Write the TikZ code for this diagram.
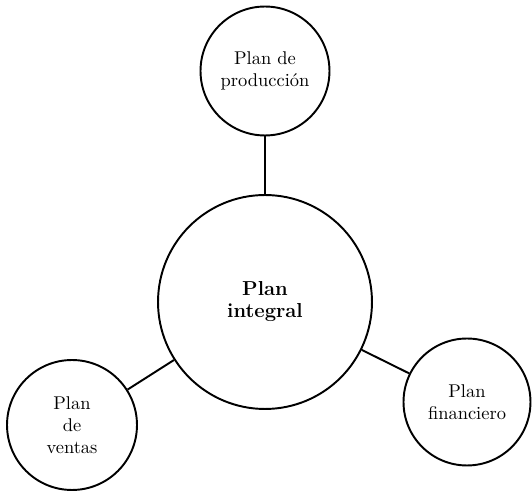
\documentclass[tikz,border=0pt]{standalone}
\usepackage{tikz}
\usetikzlibrary{positioning}

\begin{document}
\begin{tikzpicture}[x=0.02cm,y=-0.02cm,line width=1.1pt,
  plan/.style={draw,circle,align=center,inner sep=0pt,font=\fontsize{10.5}{12.5}\selectfont}]
\useasboundingbox (0,0) rectangle (532,493);
\node[plan,minimum size=4.28cm,font=\bfseries\fontsize{11.5}{12.5}\selectfont] (integral) at (265,302) {Plan\\integral};
\node[plan,minimum size=2.58cm] (prod) at (265,71) {Plan de\\producción};
\node[plan,minimum size=2.6cm] (ventas) at (72,425) {Plan\\de\\ventas};
\node[plan,minimum size=2.54cm] (fin) at (467,402) {Plan\\financiero};
\draw (integral) -- (prod);
\draw (integral) -- (ventas);
\draw (integral) -- (fin);
\end{tikzpicture}
\end{document}
